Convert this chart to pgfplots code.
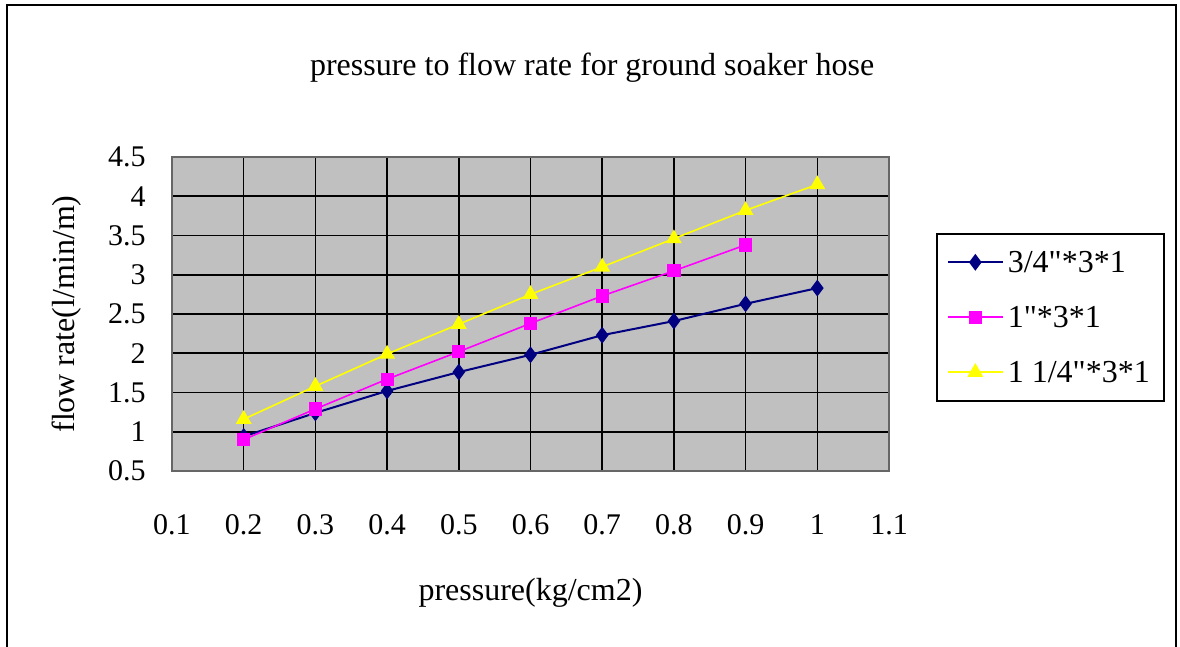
\documentclass[border=0pt]{standalone}
\usepackage{fontspec}
\newfontfamily\chartfont{Liberation Serif}
\usepackage{pgfplots}
\pgfplotsset{compat=1.18}
\definecolor{navyline}{RGB}{0,0,128}
\definecolor{pinkline}{RGB}{255,0,255}
\definecolor{yellowline}{RGB}{255,255,0}
\definecolor{plotgray}{RGB}{192,192,192}

\begin{document}
\begin{tikzpicture}[font=\chartfont\fontsize{15}{18}\selectfont]
\path[use as bounding box] (0,0) rectangle (590pt,323.5pt);
% outer chart frame
\draw[line width=1.1pt] (3.3pt,0) -- (3.3pt,321pt) -- (588pt,321pt) -- (588pt,0);
\begin{axis}[
    at={(86pt,88pt)}, anchor=south west,
    width=358.5pt, height=157pt, scale only axis,
    xmin=0.1, xmax=1.1, ymin=0.5, ymax=4.5,
    xtick={0.1,0.2,0.3,0.4,0.5,0.6,0.7,0.8,0.9,1,1.1},
    ytick={0.5,1,1.5,2,2.5,3,3.5,4,4.5},
    /pgf/number format/assume math mode=true,
    axis background/.style={fill=plotgray},
    grid=major,
    major grid style={black, line width=0.8pt},
    axis line style={black!60, line width=0.8pt},
    major tick length=0pt,
    xticklabel style={anchor=center, yshift=-27pt},
    yticklabel style={anchor=east, inner sep=0pt, xshift=-13pt},
    title={pressure to flow rate for ground soaker hose},
    title style={at={(0.586,1.245)}, anchor=center, font=\chartfont\fontsize{16}{19}\selectfont},
    xlabel={pressure(kg/cm2)},
    xlabel style={at={(0.5,-0.389)}, anchor=center, font=\chartfont\fontsize{16}{19}\selectfont},
    ylabel={flow rate(l/min/m)},
    ylabel style={at={(-0.1464,0.5)}, anchor=center, font=\chartfont\fontsize{16}{19}\selectfont},
    legend cell align=left,
    legend style={at={(1.0656,0.758)}, anchor=north west,
      draw=black, line width=0.8pt, inner sep=5pt, row sep=9pt,
      font=\chartfont\fontsize{16}{19}\selectfont,
      nodes={inner sep=2pt, text height=12.5pt, text depth=2pt}},
    legend image code/.code={%
      \draw[mark repeat=2, mark phase=2, #1]
        plot coordinates {(0pt,0pt) (13.75pt,0pt) (27.5pt,0pt)};},
  ]
  \addplot[navyline, line width=1pt, mark=diamond*, mark size=3.4pt,
    mark options={fill=navyline, draw=navyline, solid}] coordinates {
    (0.2,0.94) (0.3,1.24) (0.4,1.52) (0.5,1.76) (0.6,1.98)
    (0.7,2.23) (0.8,2.41) (0.9,2.63) (1.0,2.83)
  };
  \addlegendentry{3/4"*3*1}
  \addplot[pinkline, line width=0.8pt, mark=square*, mark size=2.9pt,
    mark options={fill=pinkline, draw=pinkline}] coordinates {
    (0.2,0.90) (0.3,1.29) (0.4,1.67) (0.5,2.02) (0.6,2.38)
    (0.7,2.73) (0.8,3.05) (0.9,3.38)
  };
  \addlegendentry{1"*3*1}
  \addplot[yellowline, line width=0.8pt, mark=triangle*, mark size=3.8pt,
    mark options={fill=yellowline, draw=yellowline}] coordinates {
    (0.2,1.16) (0.3,1.58) (0.4,1.99) (0.5,2.37) (0.6,2.75)
    (0.7,3.10) (0.8,3.46) (0.9,3.82) (1.0,4.15)
  };
  \addlegendentry{1 1/4"*3*1}
\end{axis}
\end{tikzpicture}
\end{document}
